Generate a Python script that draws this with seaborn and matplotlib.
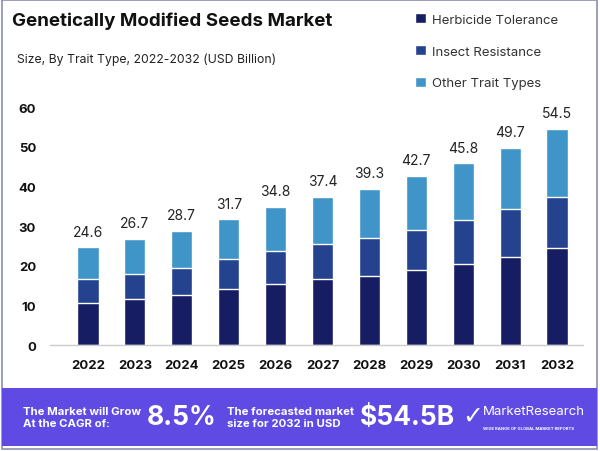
import pandas as pd
import numpy as np
import seaborn as sns
import matplotlib.pyplot as plt
from matplotlib.patches import Rectangle

# Datos (USD Billion)
anios = ["2022", "2023", "2024", "2025", "2026", "2027", "2028", "2029", "2030", "2031", "2032"]
herbicida = [10.7, 11.7, 12.6, 14.1, 15.3, 16.7, 17.5, 19.0, 20.5, 22.1, 24.4]
insectos = [5.9, 6.3, 6.9, 7.5, 8.4, 8.8, 9.4, 10.1, 10.9, 12.1, 12.9]
otros = [8.0, 8.7, 9.2, 10.1, 11.1, 11.9, 12.4, 13.6, 14.4, 15.5, 17.2]
totales = [24.6, 26.7, 28.7, 31.7, 34.8, 37.4, 39.3, 42.7, 45.8, 49.7, 54.5]
series = ["Herbicide Tolerance", "Insect Resistance", "Other Trait Types"]
colores = ["#171d63", "#25428f", "#3f95c7"]

df = pd.DataFrame({"anio": anios, "herb": herbicida, "ins": insectos, "otr": otros})
df["tope_ins"] = df["herb"] + df["ins"]
df["tope_otr"] = df["tope_ins"] + df["otr"]

sns.set_theme(style="white")
plt.rcParams["font.family"] = ["Inter", "DejaVu Sans"]

fig = plt.figure(figsize=(6, 4.52), dpi=100)

# marco y banda inferior
fig.patches.append(Rectangle((0.004, 0.005), 0.991, 0.992, transform=fig.transFigure,
                             fill=False, edgecolor="#8a8fb0", lw=1.2, zorder=0))
fig.patches.append(Rectangle((0.004, 0.011), 0.991, 0.128, transform=fig.transFigure,
                             facecolor="#5f4be3", edgecolor="none", zorder=1))

ax = fig.add_axes([0.0833, 0.2345, 0.888, 0.5265])

# barras apiladas: se dibuja el acumulado de mayor a menor
sns.barplot(data=df, x="anio", y="tope_otr", color=colores[2], width=0.45,
            saturation=1, ax=ax, label=series[2])
sns.barplot(data=df, x="anio", y="tope_ins", color=colores[1], width=0.45,
            saturation=1, ax=ax, label=series[1])
sns.barplot(data=df, x="anio", y="herb", color=colores[0], width=0.45,
            saturation=1, ax=ax, label=series[0])

for i, t in enumerate(totales):
    ax.text(i, t + 2.2, f"{t}", ha="center", va="bottom", fontsize=10,
            color="#222222", clip_on=False)

ax.set_ylim(0, 60)
ax.set_xlim(-0.81, 10.55)
ax.set_yticks(range(0, 61, 10))
ax.set_xlabel("")
ax.set_ylabel("")
ax.tick_params(axis="y", length=0, pad=10, labelsize=9.5)
ax.tick_params(axis="x", length=0, pad=10, labelsize=9.5)
for lab in ax.get_xticklabels() + ax.get_yticklabels():
    lab.set_fontweight("bold")
    lab.set_color("#111111")
for s in ["top", "right", "left"]:
    ax.spines[s].set_visible(False)
ax.spines["bottom"].set_color("#cccccc")
ax.spines["bottom"].set_linewidth(1)

# leyenda (fuera del eje, arriba a la derecha)
handles, labels = ax.get_legend_handles_labels()
if ax.get_legend() is not None:
    ax.get_legend().remove()
orden = [labels.index(s) for s in series]
fig.legend([handles[k] for k in orden], series, loc="upper left",
           bbox_to_anchor=(0.672, 0.995), frameon=False, fontsize=9.5,
           handlelength=0.8, handleheight=0.8, handletextpad=0.5,
           labelspacing=1.45, labelcolor="#333333")

# titulos
fig.text(0.02, 0.952, "Genetically Modified Seeds Market", fontsize=13.5,
         fontweight="bold", color="#111111", va="center")
fig.text(0.028, 0.868, "Size, By Trait Type, 2022-2032 (USD Billion)", fontsize=8.8,
         color="#222222", va="center")

# banda inferior
fig.text(0.038, 0.075, "The Market will Grow\nAt the CAGR of:", fontsize=8.2,
         fontweight="bold", color="white", va="center", linespacing=1.3)
fig.text(0.245, 0.075, "8.5%", fontsize=19, fontweight="bold", color="white", va="center")
fig.text(0.378, 0.075, "The forecasted market\nsize for 2032 in USD", fontsize=8.2,
         fontweight="bold", color="white", va="center", linespacing=1.3)
fig.text(0.6, 0.075, "$54.5B", fontsize=19, fontweight="bold", color="white", va="center")
fig.text(0.77, 0.078, "\u2713", fontsize=18, fontweight="bold", color="white",
         va="center", family=["DejaVu Sans"])
fig.text(0.805, 0.088, "MarketResearch", fontsize=9.5, color="white", va="center")
fig.text(0.805, 0.05, "WIDE RANGE OF GLOBAL MARKET REPORTS", fontsize=3,
         fontweight="bold", color="white", va="center")

fig.savefig("out.png", dpi=100)
